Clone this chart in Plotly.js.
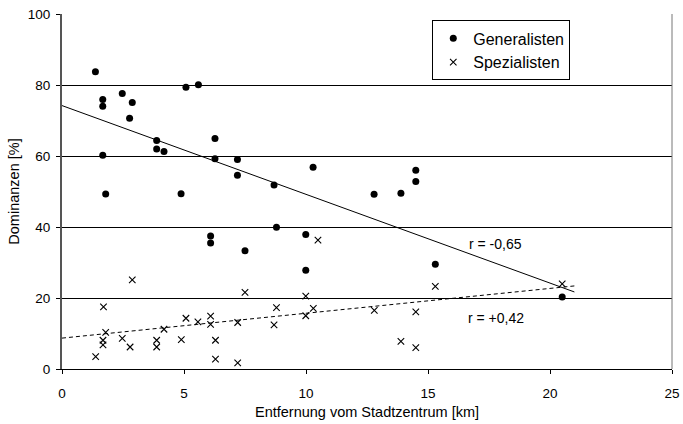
<!DOCTYPE html>
<html>
<head>
<meta charset="utf-8">
<script src="https://cdn.plot.ly/plotly-3.0.1.min.js"></script>
<style>html,body{margin:0;padding:0;background:#fff;}#chart{width:683px;height:424px;}</style>
</head>
<body>
<div id="chart"></div>
<script>
// Generalisten (filled circles)
const genX = [1.37, 1.67, 1.67, 1.67, 1.79, 2.47, 2.77, 2.88, 3.88, 3.88, 4.18, 4.88, 5.08, 5.59, 6.09, 6.09, 6.27, 6.27, 7.19, 7.19, 7.5, 8.69, 8.79, 9.99, 9.99, 10.29, 12.79, 13.89, 14.5, 14.5, 15.3, 20.5];
const genY = [83.7, 75.9, 74.0, 60.2, 49.3, 77.6, 70.6, 75.1, 64.4, 62.0, 61.3, 49.4, 79.4, 80.1, 37.5, 35.5, 64.9, 59.2, 59.0, 54.6, 33.3, 51.8, 39.9, 37.9, 27.8, 56.8, 49.2, 49.5, 56.0, 52.8, 29.5, 20.3];
// Spezialisten (crosses)
const spezX = [1.38, 1.70, 1.79, 1.68, 1.68, 2.47, 2.79, 2.88, 3.88, 3.88, 4.18, 4.89, 5.08, 5.57, 6.09, 6.09, 6.29, 6.29, 7.2, 7.2, 7.5, 8.79, 8.69, 9.99, 9.99, 10.3, 10.49, 12.8, 13.89, 14.5, 14.5, 15.3, 20.5];
const spezY = [3.5, 17.5, 10.3, 8.1, 6.8, 8.6, 6.2, 25.1, 8.1, 6.2, 11.2, 8.3, 14.3, 13.3, 14.9, 12.6, 8.1, 2.8, 13.1, 1.7, 21.6, 17.3, 12.4, 20.5, 15.0, 17.1, 36.3, 16.5, 7.8, 16.1, 6.0, 23.3, 24.0];
// Linear trend coefficients [intercept, slope] and extent
const genTrend = [74.2, -2.5];
const spezTrend = [8.7, 0.70];
const trendX = [0, 21];
const corrLabels = ["r = -0,65", "r = +0,42"];
const corrPos = [[17.75, 35.2], [17.8, 14.4]];
const xTicks = [0, 5, 10, 15, 20, 25];
const yTicks = [0, 20, 40, 60, 80, 100];

const FONT = "Liberation Sans, Arial, sans-serif";
const lineY = (c) => trendX.map(x => c[0] + c[1] * x);

const traces = [
  {x: genX, y: genY, type: 'scatter', mode: 'markers', name: 'Generalisten',
   marker: {symbol: 'circle', size: 7, color: '#000'}},
  {x: spezX, y: spezY, type: 'scatter', mode: 'markers', name: 'Spezialisten',
   marker: {symbol: 'x-thin', size: 6.5, color: '#000', line: {color: '#000', width: 1.1}}},
  {x: trendX, y: lineY(genTrend), type: 'scatter', mode: 'lines', showlegend: false,
   line: {color: '#000', width: 1}, hoverinfo: 'skip'},
  {x: trendX, y: lineY(spezTrend), type: 'scatter', mode: 'lines', showlegend: false,
   line: {color: '#000', width: 1, dash: '4px,3px'}, hoverinfo: 'skip'}
];

const layout = {
  width: 683, height: 424,
  margin: {l: 62, r: 11, t: 14, b: 55},
  paper_bgcolor: '#fff', plot_bgcolor: '#fff',
  font: {family: FONT, color: '#000'},
  showlegend: true,
  legend: {x: 0.607, y: 0.982, xanchor: 'left', yanchor: 'top',
           bgcolor: '#fff', bordercolor: '#000', borderwidth: 1,
           font: {family: FONT, size: 16, color: '#000'},
           itemwidth: 30, tracegroupgap: 4, traceorder: 'normal'},
  xaxis: {range: [0, 25], tickvals: xTicks, ticks: 'outside', ticklen: 4, tickcolor: '#000',
          showgrid: false, zeroline: false, showline: true, linecolor: '#000', linewidth: 1,
          tickfont: {family: FONT, size: 13.5, color: '#000'}, ticklabelstandoff: 8,
          title: {text: 'Entfernung vom Stadtzentrum [km]', font: {family: FONT, size: 14.5, color: '#000'}, standoff: 6}},
  yaxis: {range: [0, 100], tickvals: yTicks, ticks: 'outside', ticklen: 4, tickcolor: '#000',
          showgrid: true, gridcolor: '#000', gridwidth: 1, zeroline: false,
          showline: true, linecolor: '#555', linewidth: 2,
          tickfont: {family: FONT, size: 13.5, color: '#000'}, ticklabelstandoff: 3,
          title: {text: 'Dominanzen [%]', font: {family: FONT, size: 14.5, color: '#000'}, standoff: 5}},
  shapes: [{type: 'line', xref: 'paper', yref: 'paper', x0: 1, x1: 1, y0: 0, y1: 1,
            line: {color: '#777', width: 1}}],
  annotations: corrLabels.map((t, i) => ({x: corrPos[i][0], y: corrPos[i][1], xref: 'x', yref: 'y',
            text: t, showarrow: false, font: {family: FONT, size: 14, color: '#000'}}))
};

Plotly.newPlot('chart', traces, layout, {displayModeBar: false, staticPlot: true});
</script>
</body>
</html>
